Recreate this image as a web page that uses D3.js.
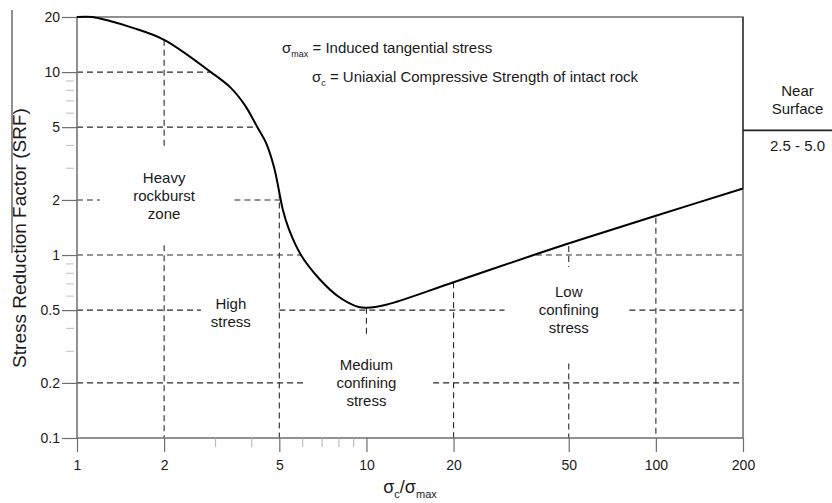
<!DOCTYPE html>
<html>
<head>
<meta charset="utf-8">
<script src="https://cdn.jsdelivr.net/npm/d3@7"></script>
<style>
  html, body { margin: 0; padding: 0; background: #fff; }
  svg { display: block; }
</style>
</head>
<body>
<div id="chart"></div>
<script>
// ---------------- data ----------------
const curveRatio = [1, 1.13, 1.3, 1.55, 2, 2.9, 3.4, 3.8, 4.2, 4.5, 4.8, 5.0, 5.15, 5.4, 5.94, 6.88, 8.04, 9.4, 10, 11.7, 20, 38.5, 59, 100, 200];
const curveSRF   = [20, 20, 19.0, 17.5, 15, 10, 8.2, 6.6, 5.0, 4.1, 3.0, 2.2, 1.75, 1.38, 1.0, 0.74, 0.59, 0.52, 0.515, 0.535, 0.71, 1.01, 1.26, 1.64, 2.31];

const xTickValues = [1, 2, 5, 10, 20, 50, 100, 200];
const xMinorTicks = [3, 4, 6, 7, 8, 9];
const yTickValues = [0.1, 0.2, 0.5, 1, 2, 5, 10, 20];
const yMinorTicks = [0.3, 0.4, 0.6, 0.7, 0.8, 0.9, 3, 4, 6, 7, 8, 9];

// dashed horizontal guide segments: [SRF, from ratio, to ratio]
const hGuides = [
  [10, 1, 2.9],
  [5, 1, 4.2],
  [2, 1, 1.2], [2, 3.5, 5.05],
  [1, 1, 5.94], [1, 38.5, 200],
  [0.5, 1, 2.68], [0.5, 5.0, 30], [0.5, 81, 200],
  [0.2, 1, 6.1], [0.2, 17, 200]
];
// dashed vertical guide segments: [ratio, from SRF, to SRF]
const vGuides = [
  [2, 15, 3.9], [2, 1.13, 0.1],
  [5, 2.2, 0.1],
  [10, 0.515, 0.37],
  [20, 0.71, 0.1],
  [50, 1.12, 0.86], [50, 0.255, 0.1],
  [100, 1.6, 0.1]
];

// zone labels: [ratio, SRF (centre), lines]
const zoneLabels = [
  [2, 2.1, ["Heavy", "rockburst", "zone"]],
  [3.4, 0.48, ["High", "stress"]],
  [10, 0.2, ["Medium", "confining", "stress"]],
  [50, 0.5, ["Low", "confining", "stress"]]
];

const nearSurfaceTitle = ["Near", "Surface"];
const nearSurfaceRange = "2.5 - 5.0";
const nearSurfaceSplit = 4.8;

const legendLines = [
  ["σ", "max", " = Induced tangential stress"],
  ["σ", "c", " = Uniaxial Compressive Strength of intact rock"]
];
const yTitle = "Stress Reduction Factor (SRF)";

// ---------------- layout ----------------
const W = 832, H = 503;
const L = 77, R = 743, T = 17, B = 438;
const FONT = "'Liberation Sans', Arial, Helvetica, sans-serif";
const TXT = "#1a1a1a";
const FRAME = "#6e6e6e";

const svg = d3.select("#chart").append("svg")
  .attr("width", W).attr("height", H)
  .attr("font-family", FONT);

svg.append("rect").attr("width", W).attr("height", H).attr("fill", "#fff");

const x = d3.scaleLog().domain([1, 200]).range([L, R]);
const y = d3.scaleLog().domain([0.1, 20]).range([B, T]);

// dashed guides
const guides = svg.append("g")
  .attr("stroke", "#2a2a2a").attr("stroke-width", 1.1)
  .attr("stroke-dasharray", "6,4").attr("fill", "none");
hGuides.forEach(([v, a, b]) => {
  guides.append("line")
    .attr("x1", x(a)).attr("x2", x(b))
    .attr("y1", y(v)).attr("y2", y(v));
});
vGuides.forEach(([v, a, b]) => {
  guides.append("line")
    .attr("x1", x(v)).attr("x2", x(v))
    .attr("y1", y(a)).attr("y2", y(b));
});

// frame
svg.append("rect")
  .attr("x", L).attr("y", T).attr("width", R - L).attr("height", B - T)
  .attr("fill", "none").attr("stroke", FRAME).attr("stroke-width", 1.5);

// x axis
const xAxis = d3.axisBottom(x).tickValues(xTickValues)
  .tickFormat(d3.format("d")).tickSize(14).tickPadding(8);
const gx = svg.append("g").attr("transform", `translate(0,${B})`).call(xAxis);
gx.select(".domain").remove();
gx.selectAll(".tick line").attr("stroke", FRAME).attr("stroke-width", 1.2);
gx.selectAll(".tick text").attr("font-size", 14).attr("fill", TXT).attr("font-family", FONT);

const xMinor = d3.axisBottom(x).tickValues(xMinorTicks).tickFormat("").tickSize(9);
const gxm = svg.append("g").attr("transform", `translate(0,${B})`).call(xMinor);
gxm.select(".domain").remove();
gxm.selectAll(".tick line").attr("stroke", "#b0b0b0").attr("stroke-width", 1);

// y axis
const yAxis = d3.axisLeft(y).tickValues(yTickValues)
  .tickFormat(d => String(d)).tickSize(15).tickPadding(2);
const gy = svg.append("g").attr("transform", `translate(${L},0)`).call(yAxis);
gy.select(".domain").remove();
gy.selectAll(".tick line").attr("stroke", FRAME).attr("stroke-width", 1.2);
gy.selectAll(".tick text").attr("font-size", 14).attr("fill", TXT).attr("font-family", FONT);

const yMinor = d3.axisLeft(y).tickValues(yMinorTicks).tickFormat("").tickSize(8);
const gym = svg.append("g").attr("transform", `translate(${L - 3},0)`).call(yMinor);
gym.select(".domain").remove();
gym.selectAll(".tick line").attr("stroke", "#bdbdbd").attr("stroke-width", 1);

// curve
const pts = curveRatio.map((r, i) => [r, curveSRF[i]]);
const line = d3.line().x(d => x(d[0])).y(d => y(d[1])).curve(d3.curveCatmullRom.alpha(0.5));
svg.append("path").datum(pts).attr("d", line)
  .attr("fill", "none").attr("stroke", "#000").attr("stroke-width", 2);

// Near surface box
const endSRF = curveSRF[curveSRF.length - 1];
svg.append("line")
  .attr("x1", R).attr("x2", R).attr("y1", T).attr("y2", y(endSRF))
  .attr("stroke", "#444").attr("stroke-width", 1.6);
svg.append("line")
  .attr("x1", R).attr("x2", W).attr("y1", y(nearSurfaceSplit)).attr("y2", y(nearSurfaceSplit))
  .attr("stroke", "#222").attr("stroke-width", 1.6);
const nsx = (R + W) / 2 + 10;
const nsTitle = svg.append("text").attr("text-anchor", "middle")
  .attr("font-size", 15).attr("fill", TXT);
nearSurfaceTitle.forEach((t, i) => {
  nsTitle.append("tspan").attr("x", nsx).attr("y", y(nearSurfaceSplit) - 34 + i * 18).text(t);
});
svg.append("text").attr("text-anchor", "middle").attr("font-size", 15).attr("fill", TXT)
  .attr("x", nsx).attr("y", y(nearSurfaceSplit) + 21).text(nearSurfaceRange);

// zone labels
zoneLabels.forEach(([r, v, lines]) => {
  const t = svg.append("text").attr("text-anchor", "middle")
    .attr("font-size", 15).attr("fill", TXT);
  const cy = y(v);
  const n = lines.length;
  lines.forEach((s, i) => {
    t.append("tspan").attr("x", x(r))
      .attr("y", cy + (i - (n - 1) / 2) * 18 + 5).text(s);
  });
});

// legend
const legendPos = [[282, 53], [312, 82]];
legendLines.forEach(([sym, sub, rest], i) => {
  const t = svg.append("text").attr("x", legendPos[i][0]).attr("y", legendPos[i][1])
    .attr("font-size", 15).attr("fill", TXT);
  t.append("tspan").text(sym);
  t.append("tspan").attr("font-size", 9).attr("dy", 4).text(sub);
  t.append("tspan").attr("dy", -4).text(rest);
});

// axis titles
const xt = svg.append("text").attr("text-anchor", "middle")
  .attr("x", (L + R) / 2).attr("y", 493).attr("font-size", 18).attr("fill", TXT);
xt.append("tspan").text("σ");
xt.append("tspan").attr("font-size", 11).attr("dy", 5).text("c");
xt.append("tspan").attr("dy", -5).text("/σ");
xt.append("tspan").attr("font-size", 11).attr("dy", 5).text("max");

svg.append("text")
  .attr("transform", `translate(26,238) rotate(-90)`)
  .attr("text-anchor", "middle").attr("font-size", 19).attr("fill", TXT)
  .text(yTitle);

// stray rule beside the y title in the original figure
svg.append("line").attr("x1", 12).attr("x2", 12).attr("y1", 10).attr("y2", 253)
  .attr("stroke", "#555").attr("stroke-width", 1.3);
</script>
</body>
</html>
